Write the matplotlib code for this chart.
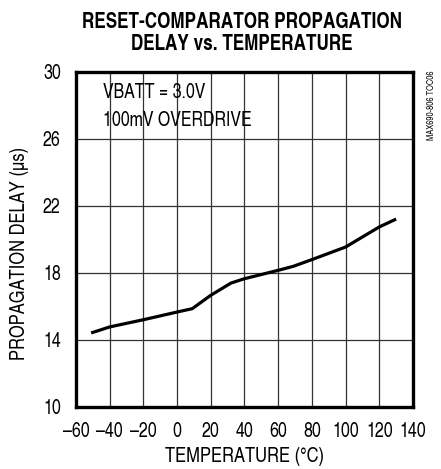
import matplotlib
matplotlib.use("Agg")
import matplotlib.pyplot as plt

plt.rcParams['font.family'] = ['TeX Gyre Heros Cn', 'DejaVu Sans']
plt.rcParams['axes.unicode_minus'] = True

temperature = [-51, -40, -20, 0, 9, 20, 32, 40, 60, 69, 80, 100, 120, 130]
delay = [14.42, 14.78, 15.21, 15.67, 15.87, 16.67, 17.40, 17.66, 18.16, 18.4, 18.8, 19.55, 20.75, 21.22]
xticks = [-60, -40, -20, 0, 20, 40, 60, 80, 100, 120, 140]
yticks = [10, 14, 18, 22, 26, 30]

fig = plt.figure(figsize=(4.41, 4.69), dpi=100)
ax = fig.add_axes([0.1723, 0.1322, 0.7642, 0.7143])
ax.plot(temperature, delay, color='black', lw=2.3, solid_capstyle='butt')
ax.set_xlim(-60, 140)
ax.set_ylim(10, 30)
ax.set_xticks(xticks)
ax.set_yticks(yticks)
ax.set_xticklabels([str(t).replace('-', '\u2013') for t in xticks])
ax.grid(True, color='#333333', lw=0.9)
ax.tick_params(axis='x', length=0, labelsize=14, pad=11, colors='black')
ax.tick_params(axis='y', length=0, labelsize=14, pad=11, colors='black')
for s in ax.spines.values():
    s.set_linewidth(2.4)
ax.set_xlabel('TEMPERATURE (°C)', fontsize=14.5, va='center')
ax.xaxis.set_label_coords(0.5, -0.149)
ax.set_ylabel('PROPAGATION DELAY (µs)', fontsize=14.5, va='center')
ax.yaxis.set_label_coords(-0.168, 0.457)
ax.text(-44, 28.8, 'VBATT = 3.0V', fontsize=14, va='center', ha='left')
ax.text(-44, 27.1, '100mV OVERDRIVE', fontsize=14, va='center', ha='left')
fig.text(0.548, 0.975, 'RESET-COMPARATOR PROPAGATION\nDELAY vs. TEMPERATURE',
         ha='center', va='top', fontsize=15, fontweight='bold', linespacing=1.05)
fig.text(0.979, 0.85, 'MAX690-806 TOC06', rotation=90, fontsize=6.6, ha='center', va='top')
fig.savefig('out.png', dpi=100)
